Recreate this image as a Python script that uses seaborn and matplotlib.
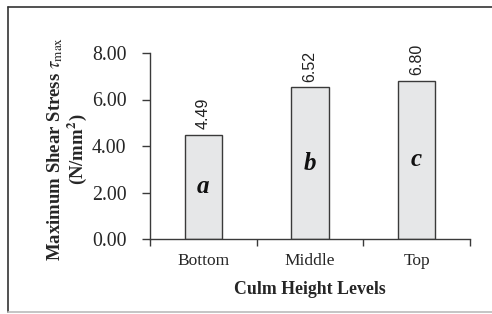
import matplotlib
matplotlib.use("Agg")
import matplotlib.pyplot as plt
import seaborn as sns
import pandas as pd
from matplotlib.lines import Line2D

# data
levels = ["Bottom", "Middle", "Top"]
stress = [4.49, 6.52, 6.80]
groups = ["a", "b", "c"]
yticks = [0, 2, 4, 6, 8]

sns.set_style("white")
plt.rcParams['font.family'] = ['Liberation Serif', 'DejaVu Serif']
plt.rcParams['mathtext.fontset'] = 'stix'

df = pd.DataFrame({"level": levels, "stress": stress})

fig = plt.figure(figsize=(4.92, 3.14), dpi=100)
ax = fig.add_axes([150 / 492, 1 - 239 / 314, 320 / 492, 186 / 314])

sns.barplot(data=df, x="level", y="stress", color="#e6e7e8", saturation=1,
            width=0.35, edgecolor="#3a3a3a", linewidth=1.0, ax=ax)

ax.set_xlim(-0.5, 2.5)
ax.set_ylim(0, 8)
ax.set_yticks(yticks)
ax.set_yticklabels([f"{v:.2f}" for v in yticks], fontsize=14.3)
ax.set_xticks([0, 1, 2])
ax.set_xticklabels(levels, fontsize=12.5)
ax.set_xticks([-0.5, 0.5, 1.5, 2.5], minor=True)
ax.tick_params(axis='x', which='major', bottom=False, length=0, pad=10)
ax.tick_params(axis='x', which='minor', bottom=True, length=5, width=1,
               color="#3a3a3a", direction='out')
ax.tick_params(axis='y', left=True, length=6, width=1, color="#3a3a3a",
               direction='out', pad=11)

for s in ["top", "right"]:
    ax.spines[s].set_visible(False)
for s in ["left", "bottom"]:
    ax.spines[s].set_color("#3a3a3a")
    ax.spines[s].set_linewidth(1.0)

ax.set_xlabel("Culm Height Levels", fontsize=12.8, fontweight="bold", labelpad=9)
ax.set_ylabel("")
fig.text(67 / 492, 1 - 149 / 314,
         "Maximum Shear Stress $\\tau_{\\mathrm{max}}$\n(N/mm$^{\\mathbf{2}}$)",
         rotation=90, ha="center", va="center", fontsize=13.5,
         fontweight="bold", linespacing=1.0)

for i, (v, g) in enumerate(zip(stress, groups)):
    ax.text(i, v + 0.25, f"{v:.2f}", rotation=90, ha="center", va="bottom",
            fontsize=11.5, family=["Liberation Sans"], color="#222222")
    ax.text(i, v / 2, g, ha="center", va="center", fontsize=18,
            fontweight="bold", fontstyle="italic", color="#111111")

# outer frame
fig.add_artist(Line2D([8 / 492, 8 / 492], [1 - 7 / 314, 1 - 312 / 314],
                      transform=fig.transFigure, color="#333333", lw=1.2))
fig.add_artist(Line2D([8 / 492, 1.0], [1 - 7 / 314, 1 - 7 / 314],
                      transform=fig.transFigure, color="#333333", lw=1.2))
fig.add_artist(Line2D([8 / 492, 1.0], [1 - 312 / 314, 1 - 312 / 314],
                      transform=fig.transFigure, color="#bbbbbb", lw=1.2))

fig.savefig("out.png", dpi=100)
